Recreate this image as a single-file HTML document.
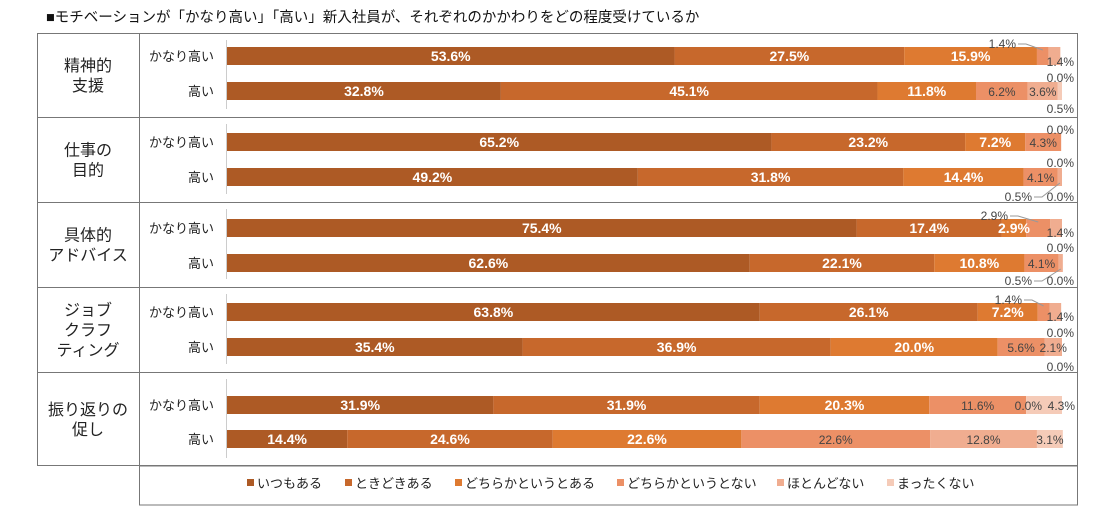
<!DOCTYPE html>
<html><head><meta charset="utf-8">
<style>
body{margin:0;background:#fff;width:1095px;height:510px;overflow:hidden;font-family:"Liberation Sans","Noto Sans CJK JP",sans-serif;}
svg text{font-family:"Liberation Sans","Noto Sans CJK JP",sans-serif;}
</style></head><body>
<svg id="chart" width="1095" height="510">
<text x="46" y="22" font-size="14.5" fill="#111">■モチベーションが「かなり高い」「高い」新入社員が、それぞれのかかわりをどの程度受けているか</text>
</svg>
<script>
const categories=["精神的\n支援","仕事の\n目的","具体的\nアドバイス","ジョブ\nクラフ\nティング","振り返りの\n促し"];
const rowLabels=["かなり高い","高い"];
const seriesNames=["いつもある","ときどきある","どちらかというとある","どちらかというとない","ほとんどない","まったくない"];
const s1=[[53.6,32.8],[65.2,49.2],[75.4,62.6],[63.8,35.4],[31.9,14.4]];
const s2=[[27.5,45.1],[23.2,31.8],[17.4,22.1],[26.1,36.9],[31.9,24.6]];
const s3=[[15.9,11.8],[7.2,14.4],[2.9,10.8],[7.2,20.0],[20.3,22.6]];
const s4=[[1.4,6.2],[4.3,4.1],[2.9,4.1],[1.4,5.6],[11.6,22.6]];
const s5=[[1.4,3.6],[0.0,0.5],[1.4,0.5],[1.4,2.1],[0.0,12.8]];
const s6=[[0.0,0.5],[0.0,0.0],[0.0,0.0],[0.0,0.0],[4.3,3.1]];
const series=[s1,s2,s3,s4,s5,s6];
const colors=["#ad5a25","#c7682c","#de7a31","#ec9066","#f0ad90","#f5cbb8"];
// layout only: outside label positions [anchor-end x, dy, callout]
const outside={
 "0-0-3":[1016,-12,1],"0-0-4":[1074,6],"0-0-5":[1074,22],"0-1-5":[1074,18],
 "1-0-4":[1074,-12],"1-0-5":[1074,21],"1-1-4":[1032,20,1],"1-1-5":[1074,20],
 "2-0-3":[1008,-12,1],"2-0-4":[1074,5],"2-0-5":[1074,20],"2-1-4":[1032,18,1],"2-1-5":[1074,18],
 "3-0-3":[1022,-12,1],"3-0-4":[1074,5],"3-0-5":[1074,21],"3-1-5":[1074,20],
 "4-0-4":[1042,1],"4-0-5":[1075,1]
};
const svg=document.getElementById('chart');
const NS="http://www.w3.org/2000/svg";
const x0=227,W=835;
const xs=v=>x0+v/100*W;
const groupTop=[33,117,202,287,372],groupBot=[117,202,287,372,466];
const groupCenters=[[56,91],[142,177],[228,263],[312,347],[405,439]];
function mk(t,a,txt){const e=document.createElementNS(NS,t);for(const k in a)e.setAttribute(k,a[k]);if(txt!=null)e.textContent=txt;svg.appendChild(e);return e;}
let f=mk('rect',{x:37.5,y:33.5,width:1040,height:432,fill:'none',stroke:'#777'});


let lb=mk('rect',{x:139.5,y:466,width:938,height:39,fill:'none',stroke:'#777'});


mk('line',{x1:139.5,y1:33,x2:139.5,y2:466,stroke:'#777'});
const labelQueue=[];
categories.forEach((c,g)=>{
  if(g>0){mk('line',{x1:37,y1:groupTop[g]+.5,x2:1078,y2:groupTop[g]+.5,stroke:'#777'});}
  const ax=mk('line',{x1:x0-.5,y1:groupTop[g]+7,x2:x0-.5,y2:groupBot[g]-8,stroke:'#ccc'});
  
  
  const lines=c.split("\n");const mid=(groupTop[g]+groupBot[g])/2;
  lines.forEach((l,i)=>{const t=mk('text',{x:88,y:mid+(i-(lines.length-1)/2)*20+6,'font-size':16,'text-anchor':'middle',fill:'#222'},l);
    
    });
  rowLabels.forEach((r,ri)=>{
    const y=groupCenters[g][ri];
    const rl=mk('text',{x:214,y:y+5,'font-size':13,'text-anchor':'end',fill:'#222'},r);
    
    
    let acc=0;
    series.forEach((s,si)=>{
      const v=s[g][ri];const a=xs(acc),b=xs(acc+v);
      const rc=mk('rect',{x:a,y:y-9,width:Math.max(0,b-a),height:18,fill:colors[si]});
      
      
      labelQueue.push({g,ri,si,v,a,b,y});
      acc+=v;
    });
  });
});
labelQueue.forEach(({g,ri,si,v,a,b,y})=>{
  const key=g+'-'+ri+'-'+si;
  if(outside[key]){
    const p=outside[key];
    const tx=mk('text',{x:p[0],y:y+p[1]+4,'font-size':12,'text-anchor':'end',fill:'#444'},v.toFixed(1)+'%');
    
    
    if(p[2]){const cx=(a+b)/2;mk('polyline',{points:`${p[0]+2},${y+p[1]} ${p[0]+10},${y+p[1]} ${cx},${y+(p[1]<0?-6:6)}`,fill:'none',stroke:'#999','stroke-width':1});}
  } else if(v>0){
    const white=si<3;
    const tx=mk('text',{x:(a+b)/2,y:y+5,'font-size':white?14:12,'font-weight':white?'bold':'normal','text-anchor':'middle',fill:white?'#fff':'#444'},v.toFixed(1)+'%');
    
    
  }
});
const legX=[247,345,455,617,777,887];
seriesNames.forEach((n,i)=>{
  const r=mk('rect',{x:legX[i],y:479,width:7,height:7,fill:colors[i]});
  
  
  const t=mk('text',{x:legX[i]+10,y:488,'font-size':13,fill:'#222'},n);
  
  
});
</script>
</body></html>
